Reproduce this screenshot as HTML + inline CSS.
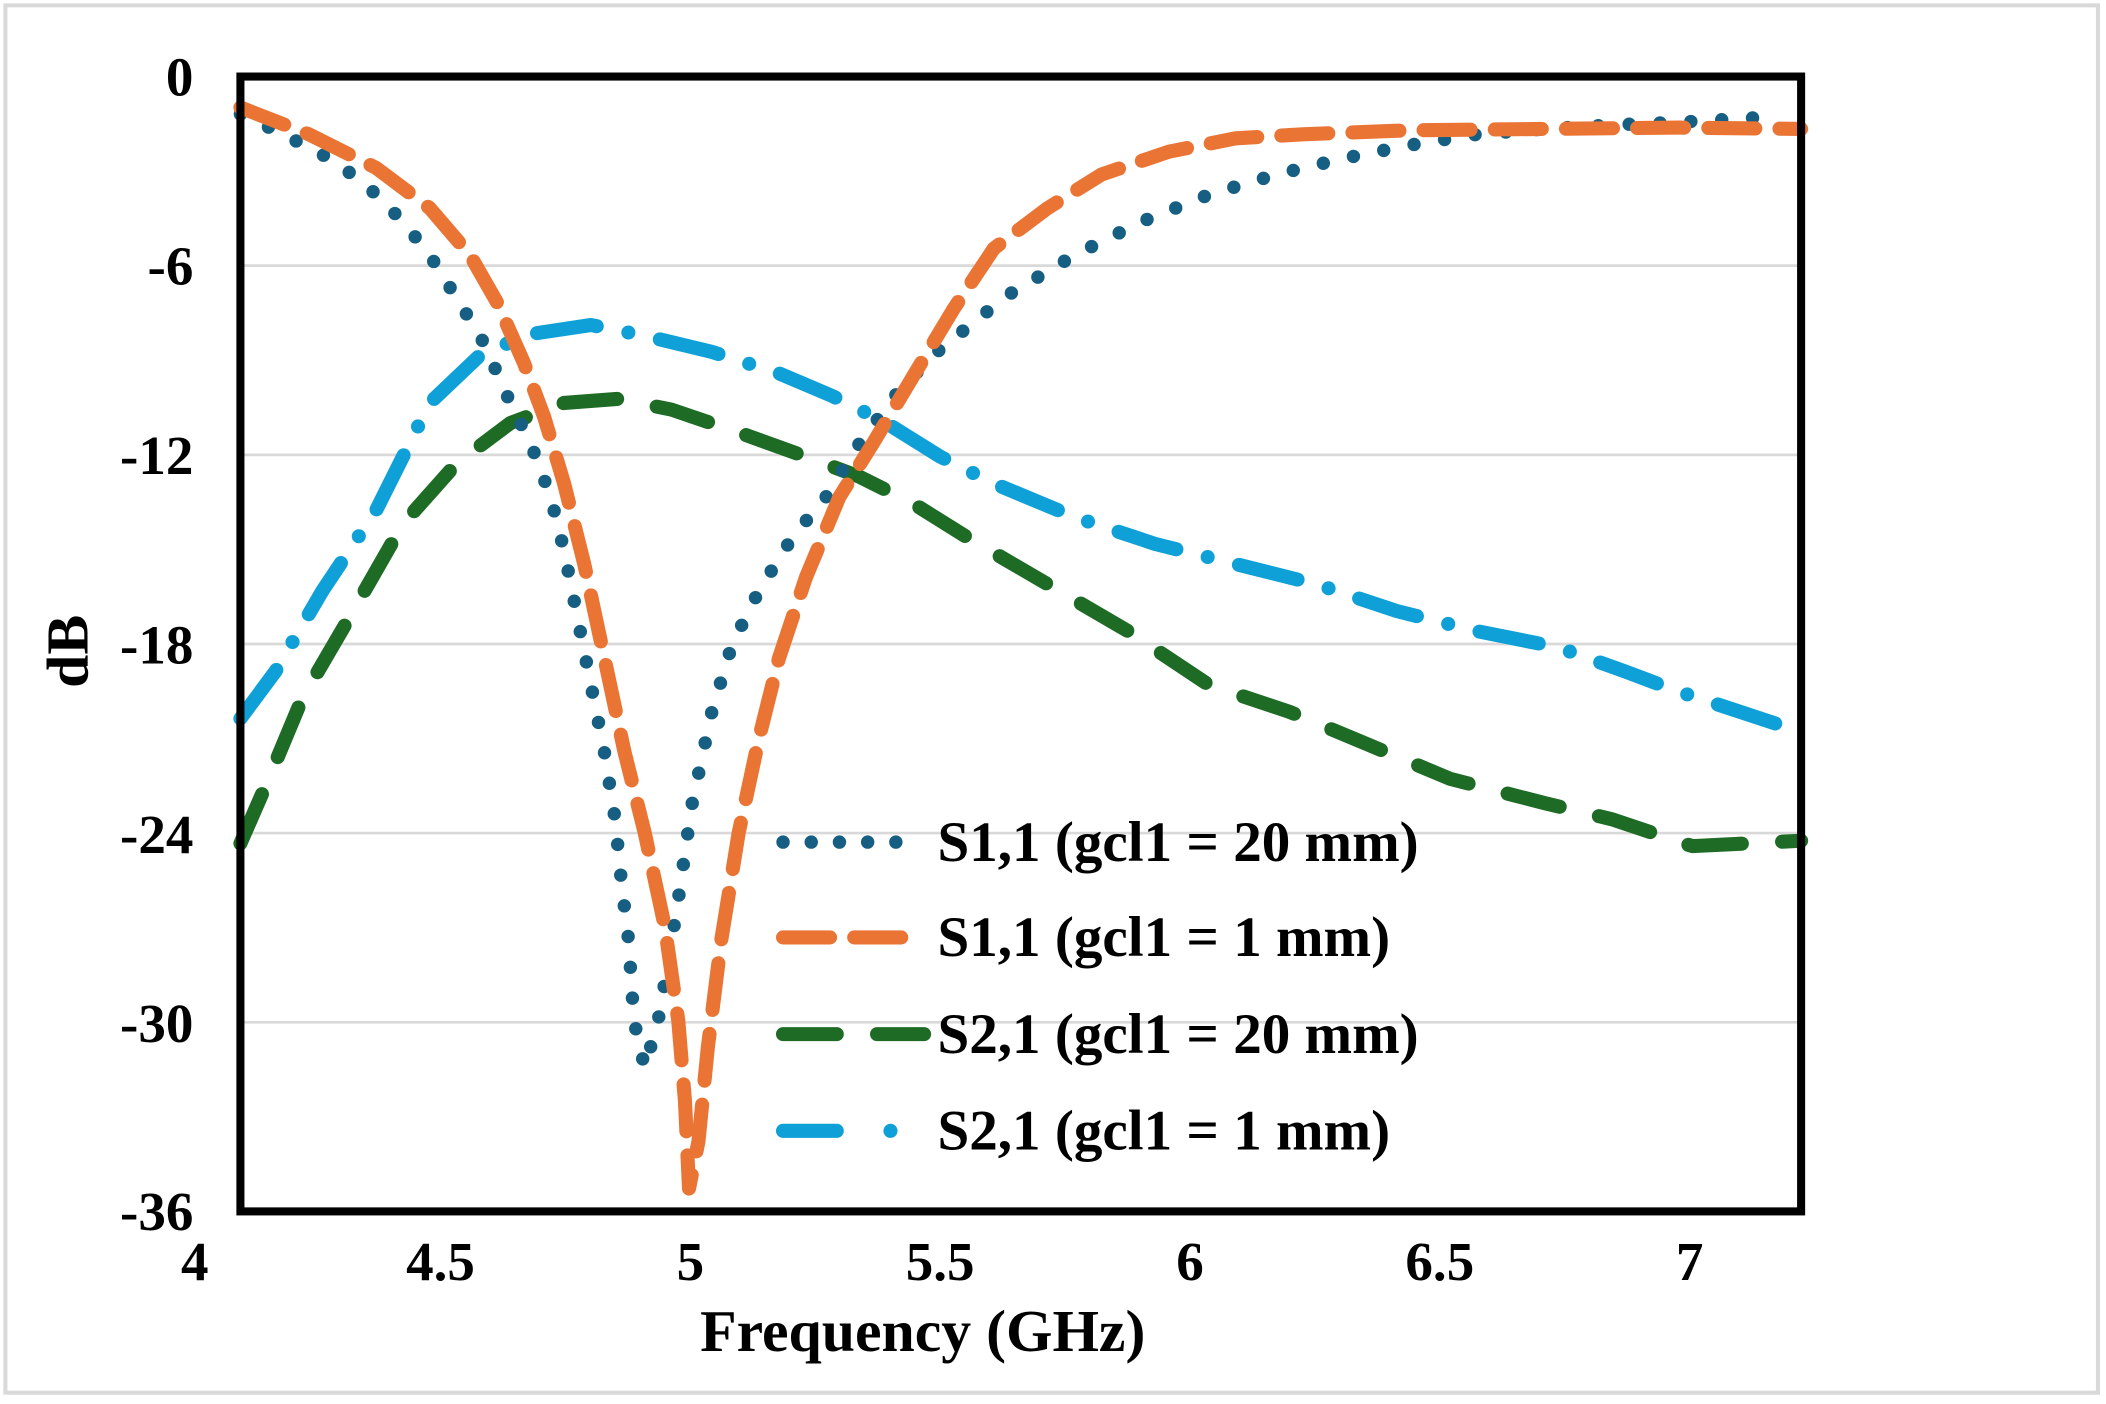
<!DOCTYPE html>
<html><head><meta charset="utf-8"><style>
html,body{margin:0;padding:0;background:#fff;}
svg{display:block;}
text{font-family:"Liberation Serif",serif;font-weight:bold;fill:#000;}
</style></head><body>
<svg width="2106" height="1404" viewBox="0 0 1568 1045.4" preserveAspectRatio="none">
<rect x="4" y="4" width="1558" height="1033" fill="#fff" stroke="#d9d9d9" stroke-width="3"/>
<g stroke="#d9d9d9" stroke-width="2">
<line x1="179" x2="1341" y1="197.8" y2="197.8"/>
<line x1="179" x2="1341" y1="338.7" y2="338.7"/>
<line x1="179" x2="1341" y1="479.5" y2="479.5"/>
<line x1="179" x2="1341" y1="620.3" y2="620.3"/>
<line x1="179" x2="1341" y1="761.2" y2="761.2"/>
</g>
<g font-size="41" text-anchor="end">
<text x="144" y="71">0</text>
<text x="144" y="212">-6</text>
<text x="144" y="353">-12</text>
<text x="144" y="494">-18</text>
<text x="144" y="635">-24</text>
<text x="144" y="776">-30</text>
<text x="144" y="916">-36</text>
</g>
<g font-size="41" text-anchor="middle">
<text x="145" y="953">4</text>
<text x="328" y="953">4.5</text>
<text x="514" y="953">5</text>
<text x="700" y="953">5.5</text>
<text x="886" y="953">6</text>
<text x="1072" y="953">6.5</text>
<text x="1258" y="953">7</text>
<text x="687" y="1006" font-size="44.5">Frequency (GHz)</text>
<text transform="translate(65,485) rotate(-90)" font-size="44.5">dB</text>
</g>
<g fill="none" stroke-linecap="round" stroke-linejoin="round" stroke-width="10.5">
<polyline stroke="#0fa0d8" stroke-dasharray="45 24 0 24" points="179,535 205,500 240,440 280,380 320,300 360,262 400,248 440,242 480,250 530,262 580,278 620,295 660,315 700,340 740,360 800,385 860,405 920,420 980,435 1040,455 1100,470 1160,482 1210,500 1250,515 1341,545"/>
<polyline stroke="#1e6b26" stroke-dasharray="40 30" points="179,628 200,580 225,520 260,460 300,390 340,345 380,315 420,300 460,297 500,305 550,322 600,340 640,355 680,375 720,400 780,435 840,470 900,510 960,530 1020,555 1080,580 1150,598 1200,610 1260,630 1341,626"/>
<polyline stroke="#175f82" stroke-width="10" stroke-dasharray="0 23" points="179,85 205,97 240,115 270,135 300,165 320,190 345,230 360,255 380,300 395,330 410,370 420,410 430,460 440,510 450,560 458,610 463,660 468,700 472,760 480,795 490,760 497,720 505,670 515,600 530,530 545,480 565,440 590,400 615,370 640,330 670,290 700,260 750,220 800,190 850,165 900,145 950,130 1000,118 1050,108 1100,100 1150,96 1200,93 1250,91 1320,87"/>
<polyline stroke="#ea7434" stroke-dasharray="35 18" points="179,80 230,100 280,125 320,155 350,190 370,225 390,270 405,310 420,360 435,420 450,490 465,560 480,620 495,690 505,760 510,820 513,885 520,850 527,780 537,700 550,620 565,550 580,490 600,430 625,370 650,330 680,280 710,230 740,185 780,155 820,130 870,113 920,103 970,100 1050,97 1150,96 1250,95 1341,96"/>
</g>
<rect x="179" y="57" width="1162" height="845" fill="none" stroke="#000" stroke-width="6"/>
<g fill="none" stroke-linecap="round" stroke-width="10.5">
<line x1="583" x2="688" y1="627" y2="627" stroke="#175f82" stroke-width="10" stroke-dasharray="0 21"/>
<line x1="583" x2="688" y1="698" y2="698" stroke="#ea7434" stroke-dasharray="35 18"/>
<line x1="583" x2="688" y1="770" y2="770" stroke="#1e6b26" stroke-dasharray="40 30"/>
<line x1="583" x2="688" y1="842" y2="842" stroke="#0fa0d8" stroke-dasharray="40 40 0 40"/>
</g>
<g font-size="42.5">
<text x="698" y="641">S1,1 (gcl1 = 20 mm)</text>
<text x="698" y="712">S1,1 (gcl1 = 1 mm)</text>
<text x="698" y="784">S2,1 (gcl1 = 20 mm)</text>
<text x="698" y="856">S2,1 (gcl1 = 1 mm)</text>
</g>
</svg>
</body></html>
